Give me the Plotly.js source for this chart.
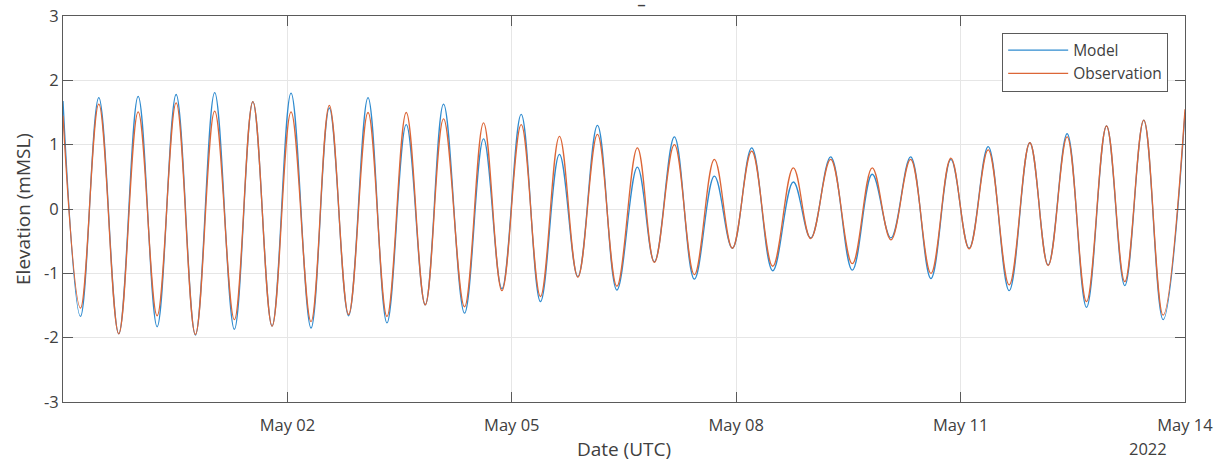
<!DOCTYPE html>
<html>
<head>
<meta charset="utf-8">
<script src="https://cdn.plot.ly/plotly-3.0.1.min.js"></script>
<style>
html,body{margin:0;padding:0;background:#fff;}
#chart{width:1222px;height:462px;}
</style>
</head>
<body>
<div id="chart"></div>
<script>
// Times of high / low water (UTC)
const times = [
  '2022-04-29 00:00','2022-04-29 05:37','2022-04-29 11:29','2022-04-29 17:53',
  '2022-04-30 00:07','2022-04-30 06:12','2022-04-30 12:18','2022-04-30 18:29',
  '2022-05-01 00:40','2022-05-01 06:59','2022-05-01 12:55','2022-05-01 19:05',
  '2022-05-02 01:10','2022-05-02 07:35','2022-05-02 13:27','2022-05-02 19:38',
  '2022-05-03 01:52','2022-05-03 07:57','2022-05-03 14:08','2022-05-03 20:14',
  '2022-05-04 02:06','2022-05-04 08:50','2022-05-04 14:56','2022-05-04 20:50',
  '2022-05-05 03:01','2022-05-05 09:12','2022-05-05 15:17','2022-05-05 21:12',
  '2022-05-06 03:29','2022-05-06 09:43','2022-05-06 16:18','2022-05-06 21:45',
  '2022-05-07 04:10','2022-05-07 10:35','2022-05-07 17:00','2022-05-07 22:46',
  '2022-05-08 04:59','2022-05-08 11:43','2022-05-08 18:20','2022-05-08 23:54',
  '2022-05-09 06:19','2022-05-09 13:15','2022-05-09 19:39','2022-05-10 01:39',
  '2022-05-10 07:58','2022-05-10 14:29','2022-05-10 20:53','2022-05-11 02:45',
  '2022-05-11 08:51','2022-05-11 15:35','2022-05-11 22:13','2022-05-12 04:05',
  '2022-05-12 10:11','2022-05-12 16:24','2022-05-12 22:49','2022-05-13 04:41',
  '2022-05-13 10:46','2022-05-13 16:58','2022-05-14 00:00'
];

const modelElev = [
  1.68,-1.67, 1.73,-1.94, 1.75,-1.83, 1.78,-1.96, 1.81,-1.87, 1.67,-1.82,
  1.80,-1.85, 1.57,-1.66, 1.73,-1.77, 1.31,-1.49, 1.63,-1.62, 1.09,-1.24,
  1.47,-1.44, 0.85,-1.05, 1.30,-1.26, 0.65,-0.82, 1.12,-1.09, 0.51,-0.61,
  0.95,-0.96, 0.42,-0.45, 0.81,-0.95, 0.54,-0.45, 0.81,-1.08, 0.77,-0.61,
  0.97,-1.27, 1.03,-0.87, 1.17,-1.53, 1.29,-1.19, 1.38,-1.72, 1.50
];

const obsElev = [
  1.45,-1.54, 1.63,-1.94, 1.51,-1.66, 1.65,-1.95, 1.52,-1.72, 1.67,-1.82,
  1.51,-1.75, 1.61,-1.64, 1.50,-1.67, 1.50,-1.49, 1.40,-1.52, 1.34,-1.27,
  1.31,-1.36, 1.13,-1.06, 1.16,-1.20, 0.95,-0.83, 1.00,-1.02, 0.77,-0.61,
  0.90,-0.89, 0.64,-0.46, 0.77,-0.85, 0.64,-0.48, 0.77,-1.00, 0.79,-0.62,
  0.92,-1.18, 1.03,-0.88, 1.12,-1.44, 1.29,-1.13, 1.38,-1.65, 1.55
];

const xTickVals = ['2022-05-02','2022-05-05','2022-05-08','2022-05-11','2022-05-14'];
const xTickText = ['May 02','May 05','May 08','May 11','May 14'];
const yTickVals = [-3,-2,-1,0,1,2,3];
const yTickText = ['-3','-2','-1','0','1','2','3'];

const font = 'Open Sans, Noto Sans, sans-serif';
const textCol = '#404040';
const axisCol = '#5a5a5a';

const traces = [
  {x: times, y: modelElev, name: 'Model', mode: 'lines',
   line: {color: '#2f8bcf', width: 1.3, shape: 'spline', smoothing: 1.1}},
  {x: times, y: obsElev, name: 'Observation', mode: 'lines',
   line: {color: '#dc6637', width: 1.3, shape: 'spline', smoothing: 1.1}}
];

const layout = {
  width: 1222, height: 462,
  margin: {l: 63, r: 37, t: 16, b: 60},
  paper_bgcolor: '#fff', plot_bgcolor: '#fff',
  font: {family: font, size: 16, color: textCol},
  showlegend: true,
  legend: {
    x: 0.985, xanchor: 'right', y: 0.957, yanchor: 'top',
    bgcolor: '#fff', bordercolor: axisCol, borderwidth: 1,
    font: {family: font, size: 15.5, color: textCol},
    itemwidth: 60, tracegroupgap: 0
  },
  xaxis: {
    type: 'date',
    range: ['2022-04-29 00:00', '2022-05-14 00:00'],
    tickvals: xTickVals, ticktext: xTickText,
    ticks: 'inside', ticklen: 10, tickcolor: axisCol,
    ticklabelstandoff: 8,
    showline: true, linecolor: axisCol, linewidth: 1, mirror: 'ticks',
    showgrid: true, gridcolor: '#e6e6e6', gridwidth: 1,
    zeroline: false,
    tickfont: {family: font, size: 16.5, color: textCol},
    title: {text: 'Date (UTC)', font: {family: font, size: 19, color: textCol}, standoff: 8}
  },
  yaxis: {
    range: [-3, 3],
    tickvals: yTickVals, ticktext: yTickText,
    ticks: 'inside', ticklen: 10, tickcolor: axisCol,
    showline: true, linecolor: axisCol, linewidth: 1, mirror: 'ticks',
    showgrid: true, gridcolor: '#e6e6e6', gridwidth: 1,
    zeroline: false,
    tickfont: {family: font, size: 16.5, color: textCol},
    title: {text: 'Elevation (mMSL)', font: {family: font, size: 19, color: textCol}, standoff: 8}
  },
  annotations: [
    {text: '2022', xref: 'paper', yref: 'paper', x: (1148 - 63) / 1122, y: (402 - 448) / 386,
     xanchor: 'center', yanchor: 'middle', showarrow: false,
     font: {family: font, size: 16.5, color: textCol}},
    {text: '<b>‾</b>', xref: 'paper', yref: 'paper', x: (641 - 63) / 1122, y: (402 - 12) / 386,
     xanchor: 'center', yanchor: 'middle', showarrow: false,
     font: {family: font, size: 14, color: textCol}}
  ]
};

Plotly.newPlot('chart', traces, layout, {displayModeBar: false, staticPlot: true});
</script>
</body>
</html>
